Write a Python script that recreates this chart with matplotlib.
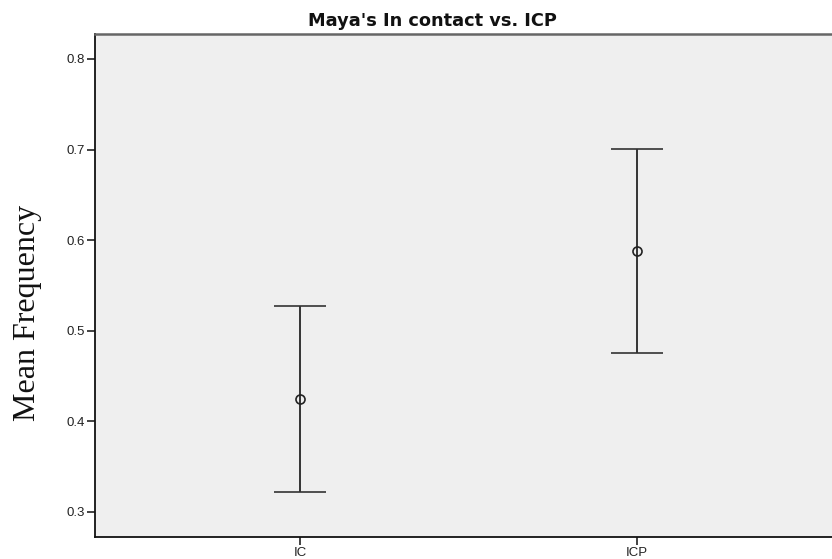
import numpy as np
import matplotlib.pyplot as plt

plt.rcParams['font.family'] = ['Liberation Sans', 'DejaVu Sans']

# Mean frequency with 95% CI per condition
groups = ['IC', 'ICP']
means = [0.425, 0.588]
ci_low = [0.322, 0.475]
ci_high = [0.527, 0.701]

fig, ax = plt.subplots(figsize=(8.32, 5.59), dpi=100)
fig.set_facecolor('white')
ax.set_position([0.1142, 0.0394, 0.898, 0.8998])
ax.set_facecolor('#EFEFEF')

x = np.arange(1, len(groups) + 1)
means = np.array(means)
err = np.vstack([means - np.array(ci_low), np.array(ci_high) - means])

ax.errorbar(x, means, yerr=err, fmt='o', mfc='none', mec='#222222', ms=6.5, mew=1.2,
            ecolor='#333333', elinewidth=1.4, capsize=18.5, capthick=1.6)

ax.set_xlim(0.391, 2.61)
ax.set_ylim(0.2724, 0.8276)
ax.set_xticks(x)
ax.set_xticklabels(groups)
ax.set_yticks([0.3, 0.4, 0.5, 0.6, 0.7, 0.8])
ax.set_yticklabels(['0.3', '0.4', '0.5', '0.6', '0.7', '0.8'])
ax.tick_params(axis='both', labelsize=9.5, colors='#222222', length=6, width=1.2, pad=1.5)

for side in ['left', 'bottom']:
    ax.spines[side].set_color('#111111')
    ax.spines[side].set_linewidth(1.3)
ax.spines['top'].set_color('#666666')
ax.spines['top'].set_linewidth(1.8)
ax.spines['right'].set_visible(False)

fig.text(432 / 832, 1 - 21 / 559, "Maya's In contact vs. ICP", ha='center', va='center',
         fontsize=12.8, fontweight='bold', family='DejaVu Sans', color='#111111')
fig.text(27 / 832, 1 - 313 / 559, 'Mean Frequency', rotation=90, ha='center', va='center',
         fontsize=23, family='Liberation Serif', color='#111111')

fig.savefig('out.png', dpi=100, facecolor='white')
